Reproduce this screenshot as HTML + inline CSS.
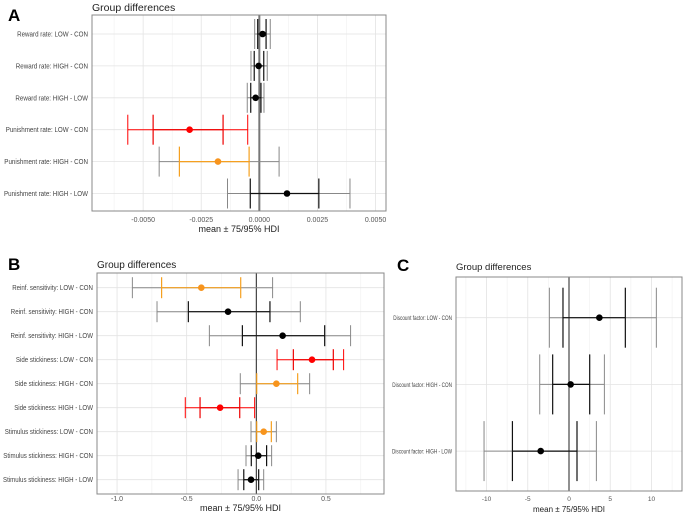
<!DOCTYPE html>
<html><head><meta charset="utf-8"><style>
html,body{margin:0;padding:0;background:#fff;}
svg{display:block;font-family:"Liberation Sans",sans-serif;}
</style></head><body>
<svg id="fig" width="685" height="514" viewBox="0 0 685 514"></svg>
<script>
// Panel A data
const aCategories = ["Reward rate: LOW - CON","Reward rate: HIGH - CON","Reward rate: HIGH - LOW","Punishment rate: LOW - CON","Punishment rate: HIGH - CON","Punishment rate: HIGH - LOW"];
const aMean = [0.00014,-0.00003,-0.00016,-0.0030,-0.00178,0.00119];
const aLo95 = [-0.0002,-0.00036,-0.00052,-0.00566,-0.00431,-0.00137];
const aHi95 = [0.00047,0.00034,0.0002,-0.0005,0.00085,0.0039];
const aLo75 = [-0.00007,-0.00022,-0.00037,-0.00457,-0.00344,-0.00039];
const aHi75 = [0.00029,0.00019,0.00007,-0.00156,-0.00044,0.00256];
const aTicks = [-0.005,-0.0025,0,0.0025,0.005];
const aTickLabels = ["-0.0050","-0.0025","0.0000","0.0025","0.0050"];
// Panel B data
const bCategories = ["Reinf. sensitivity: LOW - CON","Reinf. sensitivity: HIGH - CON","Reinf. sensitivity: HIGH - LOW","Side stickiness: LOW - CON","Side stickiness: HIGH - CON","Side stickiness: HIGH - LOW","Stimulus stickiness: LOW - CON","Stimulus stickiness: HIGH - CON","Stimulus stickiness: HIGH - LOW"];
const bMean = [-0.395,-0.203,0.189,0.40,0.144,-0.26,0.053,0.014,-0.038];
const bLo95 = [-0.89,-0.713,-0.337,0.149,-0.115,-0.51,-0.038,-0.074,-0.131];
const bHi95 = [0.117,0.316,0.677,0.627,0.383,-0.012,0.144,0.11,0.053];
const bLo75 = [-0.68,-0.488,-0.10,0.266,0.003,-0.404,0.003,-0.036,-0.09];
const bHi75 = [-0.112,0.098,0.491,0.553,0.297,-0.119,0.108,0.074,0.017];
const bTicks = [-1,-0.5,0,0.5];
const bTickLabels = ["-1.0","-0.5","0.0","0.5"];
// Panel C data
const cCategories = ["Discount factor: LOW - CON","Discount factor: HIGH - CON","Discount factor: HIGH - LOW"];
const cMean = [3.68,0.2,-3.43];
const cLo95 = [-2.38,-3.55,-10.3];
const cHi95 = [10.59,4.29,3.32];
const cLo75 = [-0.73,-1.98,-6.86];
const cHi75 = [6.83,2.51,0.97];
const cTicks = [-10,-5,0,5,10];
const cTickLabels = ["-10","-5","0","5","10"];

const NS="http://www.w3.org/2000/svg";
const svg=document.getElementById('fig');
function el(tag,attrs,parent){const e=document.createElementNS(NS,tag);for(const k in attrs)e.setAttribute(k,attrs[k]);(parent||svg).appendChild(e);return e;}

function panel(p){
  const g=el('g',{});
  
  
  const x=v=>p.left+(v-p.xmin)/(p.xmax-p.xmin)*(p.right-p.left);
  const y=i=>p.r0+i*p.rstep;
  const step=p.ticks[1]-p.ticks[0];
  for(let i=-1;i<p.ticks.length+1;i++){
    const v=p.ticks[0]-step/2+i*step;
    if(v>p.xmin&&v<p.xmax){const l=el('line',{x1:x(v),x2:x(v),y1:p.top,y2:p.bottom,stroke:'#f0f0f0','stroke-width':0.6},g);
      }
  }
  p.ticks.forEach((v,i)=>{
    const l=el('line',{x1:x(v),x2:x(v),y1:p.top,y2:p.bottom,stroke:'#e3e3e3','stroke-width':0.8},g);
    
    const t=el('text',{x:x(v),y:p.tickY,'font-size':p.tickFs,fill:'#555','text-anchor':'middle'},g);
    t.textContent=p.tickLabels[i];
    
  });
  const labels=[];
  p.cats.forEach((c,i)=>{
    const l=el('line',{x1:p.left,x2:p.right,y1:y(i),y2:y(i),stroke:'#e3e3e3','stroke-width':0.8},g);
    
    const t=el('text',{x:p.left-4,y:y(i)+2.5,'font-size':p.labFs,fill:'#444','text-anchor':'end'},g);
    t.textContent=c;
    
    labels.push(t);
  });
  // fit labels into available width
  let maxLen=0;labels.forEach(t=>{maxLen=Math.max(maxLen,t.getComputedTextLength());});
  const sc=maxLen>p.labW?p.labW/maxLen:1;
  labels.forEach(t=>{const w=t.getComputedTextLength()*sc;
    if(sc<1){t.setAttribute('textLength',w.toFixed(1));t.setAttribute('lengthAdjust','spacingAndGlyphs');}});
  const z=el('line',{x1:x(0),x2:x(0),y1:p.top,y2:p.bottom,stroke:p.zeroCol,'stroke-width':p.zeroW},g);
  
  const box=el('rect',{x:p.left,y:p.top,width:p.right-p.left,height:p.bottom-p.top,fill:'none',stroke:'#888','stroke-width':1},g);
  
  p.cats.forEach((c,i)=>{
    const red=p.hi95[i]<0||p.lo95[i]>0;
    const orange=!red&&(p.hi75[i]<0||p.lo75[i]>0);
    const c95=red?'#f00':'#888';
    const c75=red?'#e00':(orange?'#f5a020':'#111');
    const cp=red?'#f00':(orange?'#f7941d':'#000');
    const yy=y(i),h=p.cap;
    const l95=el('line',{x1:x(p.lo95[i]),x2:x(p.hi95[i]),y1:yy,y2:yy,stroke:c95,'stroke-width':1},g);
    
    [p.lo95[i],p.hi95[i]].forEach(v=>{const k=el('line',{x1:x(v),x2:x(v),y1:yy-h,y2:yy+h,stroke:c95,'stroke-width':1},g);
      });
    const l75=el('line',{x1:x(p.lo75[i]),x2:x(p.hi75[i]),y1:yy,y2:yy,stroke:c75,'stroke-width':1.2},g);
    
    [p.lo75[i],p.hi75[i]].forEach(v=>{const k=el('line',{x1:x(v),x2:x(v),y1:yy-h,y2:yy+h,stroke:c75,'stroke-width':1.2},g);
      });
    const pt=el('circle',{cx:x(p.mean[i]),cy:yy,r:3.3,fill:cp},g);
    
  });
  const ti=el('text',{x:p.left,y:p.titleY,'font-size':p.titleFs,fill:'#222'},g);
  ti.textContent='Group differences';
  
  const ax=el('text',{x:(p.left+p.right)/2,y:p.axY,'font-size':p.axFs,fill:'#222','text-anchor':'middle'},g);
  ax.textContent='mean ± 75/95% HDI';
  
  const lt=el('text',{x:p.letX,y:p.letY,'font-size':17,'font-weight':'bold',fill:'#000'},g);
  lt.textContent=p.letter;
  
}

panel({name:'panel-a',letter:'A',letX:8,letY:21,cats:aCategories,mean:aMean,lo95:aLo95,hi95:aHi95,lo75:aLo75,hi75:aHi75,ticks:aTicks,tickLabels:aTickLabels,
  left:92,right:386,top:15,bottom:211,xmin:-0.0072,xmax:0.00545,r0:34,rstep:31.9,cap:15,zeroCol:'#777',zeroW:2,
  tickY:222,tickFs:7,labFs:7,labW:84,titleY:11,titleFs:10.5,axY:232,axFs:9});
panel({name:'panel-b',letter:'B',letX:8,letY:270,cats:bCategories,mean:bMean,lo95:bLo95,hi95:bHi95,lo75:bLo75,hi75:bHi75,ticks:bTicks,tickLabels:bTickLabels,
  left:97,right:384,top:273,bottom:494,xmin:-1.144,xmax:0.917,r0:287.7,rstep:24,cap:10.5,zeroCol:'#222',zeroW:1,
  tickY:501,tickFs:7,labFs:7,labW:90,titleY:268,titleFs:10,axY:511,axFs:9});
panel({name:'panel-c',letter:'C',letX:397,letY:271,cats:cCategories,mean:cMean,lo95:cLo95,hi95:cHi95,lo75:cLo75,hi75:cHi75,ticks:cTicks,tickLabels:cTickLabels,
  left:456,right:682,top:277,bottom:491,xmin:-13.7,xmax:13.7,r0:317.7,rstep:66.7,cap:30,zeroCol:'#222',zeroW:1,
  tickY:501,tickFs:6.5,labFs:6.5,labW:60,titleY:270,titleFs:9.5,axY:512,axFs:8});
</script>
</body></html>
